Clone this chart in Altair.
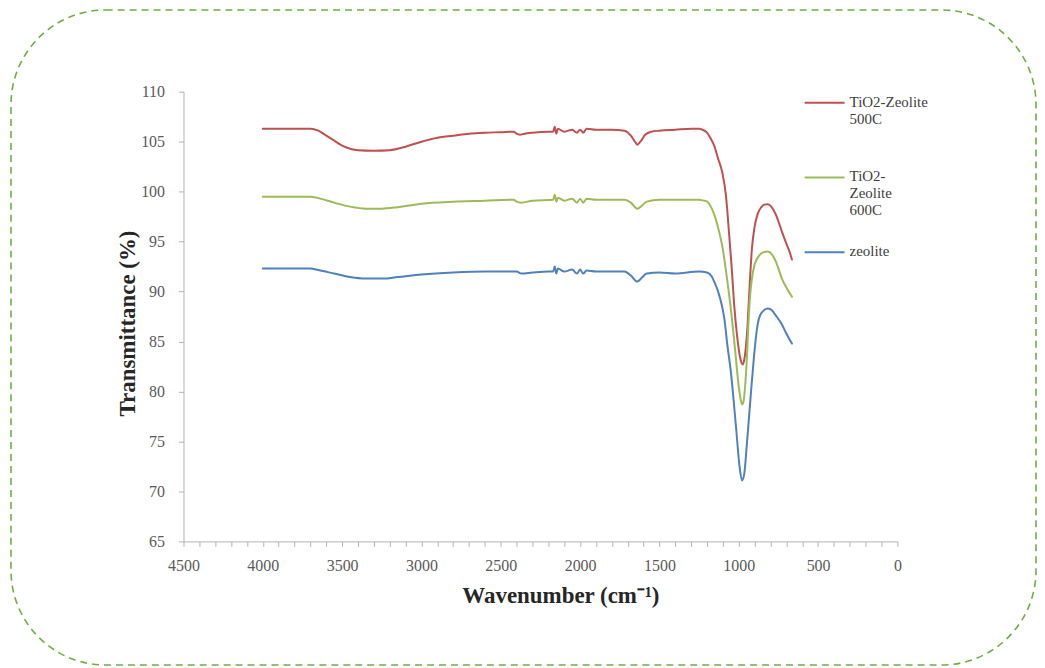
import altair as alt
import pandas as pd

SERIES = ["TiO2-Zeolite 500C", "TiO2-Zeolite 600C", "zeolite"]
COLORS = ["#c0504d", "#9bbb59", "#4f81bd"]
LEGEND_LINES = [["TiO2-Zeolite", "500C", ""], ["TiO2-", "Zeolite", "600C"], ["zeolite"]]

X_TICKS = list(range(0, 4501, 100))
Y_TICKS = [65, 70, 75, 80, 85, 90, 95, 100, 105, 110]

RED_WN = [4000, 3900, 3800, 3700, 3650, 3600, 3550, 3500, 3450, 3400, 3300, 3200, 3100, 3000,
          2900, 2800, 2700, 2600, 2500, 2420, 2400, 2380, 2350, 2300, 2200, 2170, 2160, 2150,
          2140, 2100, 2050, 2020, 2000, 1980, 1960, 1900, 1800, 1720, 1680, 1650, 1640, 1620,
          1590, 1550, 1500, 1400, 1300, 1250, 1230, 1200, 1180, 1155, 1130, 1105, 1080, 1061,
          1045, 1029, 1010, 990, 975, 965, 955, 945, 935, 917, 900, 880, 860, 840, 816, 795,
          766, 745, 728, 700, 680, 665]
RED_T = [106.3, 106.3, 106.3, 106.3, 106.1, 105.6, 105.1, 104.6, 104.3, 104.15, 104.1, 104.15,
         104.5, 105.0, 105.4, 105.6, 105.8, 105.9, 105.95, 106.0, 105.8, 105.7, 105.8, 105.9,
         106.0, 106.0, 106.5, 105.8, 106.3, 106.0, 106.2, 105.9, 106.2, 105.9, 106.3, 106.2,
         106.2, 106.1, 105.6, 104.9, 104.7, 105.0, 105.7, 106.0, 106.1, 106.2, 106.3, 106.3,
         106.2, 105.9, 105.4, 104.6, 103.3, 102.0, 99.5, 95.8, 92.5, 88.7, 85.5, 83.3, 82.7,
         83.2, 84.5, 86.5, 89.5, 94.3, 96.5, 97.8, 98.4, 98.7, 98.75, 98.5, 97.7, 96.8, 96.0,
         94.8, 94.0, 93.2]

GREEN_WN = [4000, 3700, 3650, 3550, 3450, 3350, 3250, 3150, 3000, 2800, 2600, 2420, 2400, 2370,
            2300, 2170, 2160, 2150, 2140, 2100, 2050, 2020, 2000, 1980, 1960, 1900, 1720, 1680,
            1640, 1610, 1580, 1500, 1250, 1220, 1199, 1170, 1150, 1124, 1100, 1080, 1048, 1025,
            1000, 985, 979, 970, 960, 950, 940, 929, 917, 900, 880, 850, 816, 790, 766, 728,
            700, 665]
GREEN_T = [99.5, 99.5, 99.35, 98.9, 98.5, 98.3, 98.3, 98.45, 98.8, 99.0, 99.1, 99.2, 99.0, 98.9,
           99.1, 99.2, 99.7, 99.0, 99.4, 99.1, 99.3, 98.9, 99.3, 98.9, 99.3, 99.2, 99.2, 98.9,
           98.3, 98.6, 99.0, 99.2, 99.2, 99.1, 99.0, 98.3, 97.5, 96.0, 94.2, 92.0, 88.0, 84.5,
           80.5, 79.0, 78.7, 79.0, 80.5, 83.0, 86.5, 89.5, 91.3, 92.7, 93.4, 93.9, 94.0, 93.7,
           93.0, 91.3, 90.4, 89.5]

BLUE_WN = [4000, 3700, 3650, 3550, 3450, 3350, 3250, 3150, 3000, 2800, 2600, 2400, 2370, 2300,
           2200, 2170, 2160, 2150, 2140, 2100, 2050, 2020, 2000, 1980, 1960, 1900, 1720, 1680,
           1640, 1610, 1580, 1500, 1400, 1250, 1200, 1170, 1155, 1130, 1105, 1090, 1073, 1050,
           1017, 995, 979, 965, 950, 935, 920, 904, 885, 860, 816, 790, 766, 728, 700, 665]
BLUE_T = [92.3, 92.3, 92.15, 91.8, 91.45, 91.3, 91.3, 91.45, 91.7, 91.9, 92.0, 92.0, 91.8, 91.9,
          92.0, 92.0, 92.5, 91.8, 92.3, 92.0, 92.2, 91.8, 92.2, 91.8, 92.1, 92.0, 92.0, 91.6,
          91.0, 91.4, 91.8, 91.9, 91.8, 92.0, 91.9, 91.5, 91.0, 90.0, 88.5, 87.2, 84.8, 82.0,
          76.4, 72.5, 71.1, 71.8, 74.5, 77.5, 80.5, 83.5, 86.3, 87.8, 88.3, 88.1, 87.6, 86.7,
          85.8, 84.8]

rows = []
for name, wns, ts in [(SERIES[0], RED_WN, RED_T), (SERIES[1], GREEN_WN, GREEN_T), (SERIES[2], BLUE_WN, BLUE_T)]:
    for w, t in zip(wns, ts):
        rows.append({"series": name, "wn": w, "t": t})
df = pd.DataFrame(rows)

def js_list(items):
    return "[" + ",".join("'" + s + "'" for s in items) + "]"

label_expr = (
    f"datum.label == '{SERIES[0]}' ? {js_list(LEGEND_LINES[0])} : "
    f"datum.label == '{SERIES[1]}' ? {js_list(LEGEND_LINES[1])} : datum.label"
)

FONT = "Liberation Serif"

lines = alt.Chart(df).mark_line(
    strokeWidth=2, interpolate="monotone", strokeCap="round", strokeJoin="round"
).encode(
    x=alt.X("wn:Q",
            scale=alt.Scale(domain=[0, 4500], reverse=True, nice=False, zero=False),
            axis=alt.Axis(values=X_TICKS, format="d",
                          labelExpr="datum.value % 500 === 0 ? datum.label : ''",
                          labelOverlap=False, labelFlush=False,
                          title="Wavenumber (cm⁻¹)", titleX=378, titlePadding=11,
                          tickSize=5, labelPadding=11)),
    y=alt.Y("t:Q",
            scale=alt.Scale(domain=[65, 110], nice=False, zero=False),
            axis=alt.Axis(values=Y_TICKS, title="Transmittance (%)",
                          titleX=-56, titleY=232, titleBaseline="middle", titleAlign="center",
                          tickSize=5, labelPadding=14)),
    color=alt.Color("series:N",
                    scale=alt.Scale(domain=SERIES, range=COLORS),
                    legend=alt.Legend(title=None, orient="none", legendX=622, legendY=-18,
                                      symbolType="M-1,0.4L1,0.4", symbolSize=1600,
                                      symbolStrokeWidth=2, labelFont=FONT, labelFontSize=15,
                                      labelColor="#404040", labelBaseline="top",
                                      labelExpr=label_expr, rowPadding=5, labelOffset=4,
                                      padding=0, labelLimit=300)),
    order=alt.Order("wn:Q", sort="descending"),
)

border = alt.Chart(alt.Data(values=[{}])).mark_rect(
    fill="transparent", stroke="#70ad47", strokeWidth=1.6, strokeDash=[7, 5], cornerRadius=95
).encode(
    x=alt.value(-173), x2=alt.value(855), y=alt.value(-82), y2=alt.value(575)
)

chart = alt.layer(border, lines).properties(
    width=716, height=451,
    padding={"left": 2, "top": 0, "right": 0, "bottom": 0},
    background="white",
).configure_view(strokeWidth=0).configure_axis(
    grid=False,
    domainColor="#b3b3b3", tickColor="#b3b3b3",
    labelFont=FONT, labelFontSize=16, labelColor="#595959",
    titleFont=FONT, titleFontSize=23, titleFontWeight="bold", titleColor="#262626",
)

chart.save("out.html", embed_options={"renderer": "svg", "actions": False})
